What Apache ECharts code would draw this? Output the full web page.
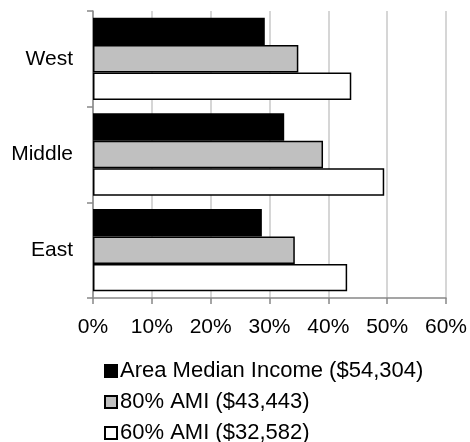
<!DOCTYPE html>
<html>
<head>
<meta charset="utf-8">
<script src="https://cdn.jsdelivr.net/npm/echarts@6/dist/echarts.min.js"></script>
<style>html,body{margin:0;padding:0;background:#fff}#c{width:470px;height:442px}</style>
</head>
<body>
<div id="c"></div>
<script>
var categories = ['West', 'Middle', 'East'];
var seriesNames = ['Area Median Income ($54,304)', '80% AMI ($43,443)', '60% AMI ($32,582)'];
var amiValues = [29.2, 32.5, 28.7];
var ami80Values = [34.9, 39.1, 34.3];
var ami60Values = [43.9, 49.5, 43.2];
var xTicks = [0, 10, 20, 30, 40, 50, 60];

var chart = echarts.init(document.getElementById('c'));
var fills = ['#000000', '#c0c0c0', '#ffffff'];
var dataSets = [amiValues, ami80Values, ami60Values];
var font = 'Liberation Sans, Arial, sans-serif';
chart.setOption({
  animation: false,
  grid: {left: 93, right: 23, top: 11, bottom: 144, containLabel: false},
  xAxis: {
    type: 'value', min: xTicks[0], max: xTicks[xTicks.length - 1], interval: 10,
    axisLine: {show: true, lineStyle: {color: '#888888', width: 1.5}},
    axisTick: {show: true, length: 6, lineStyle: {color: '#888888', width: 1.5}},
    splitLine: {show: true, lineStyle: {color: '#c8c8c8', width: 1.5}},
    axisLabel: {formatter: '{value}%', color: '#000', fontSize: 21, fontFamily: font, margin: 19}
  },
  yAxis: {
    type: 'category', data: categories, inverse: true,
    axisLine: {show: true, lineStyle: {color: '#888888', width: 1.5}},
    axisTick: {show: true, length: 6, lineStyle: {color: '#888888', width: 1.5}},
    axisLabel: {color: '#000', fontSize: 21, fontFamily: font, margin: 20}
  },
  legend: {
    orient: 'vertical', left: 104, top: 360, height: 100, padding: 0,
    itemWidth: 12, itemHeight: 12, itemGap: 9,
    icon: 'rect',
    textStyle: {color: '#000', fontSize: 22, fontFamily: font, padding: [0, 0, 0, -2]},
    data: seriesNames
  },
  series: seriesNames.map(function (n, i) {
    return {
      name: n, type: 'bar', data: dataSets[i],
      barGap: '0%', barCategoryGap: '14%',
      itemStyle: {color: fills[i], borderColor: '#000', borderWidth: 1.5}
    };
  })
});
</script>
</body>
</html>
